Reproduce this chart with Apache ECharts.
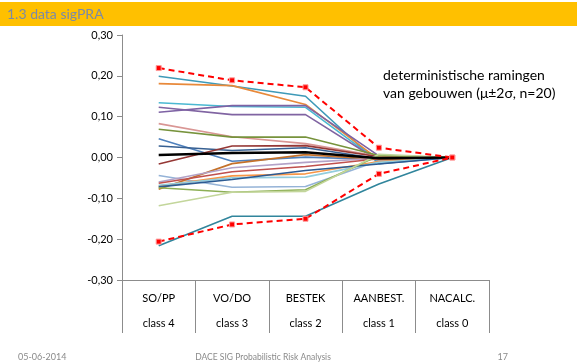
<!DOCTYPE html>
<html>
<head>
<meta charset="utf-8">
<script src="https://cdn.jsdelivr.net/npm/echarts@6/dist/echarts.min.js"></script>
<style>
  html, body { margin: 0; padding: 0; background: #fff; }
  #chart { width: 577px; height: 364px; }
</style>
</head>
<body>
<div id="chart"></div>
<script>
// Estimate phases (class 4 .. class 0)
const phases = ['SO/PP', 'VO/DO', 'BESTEK', 'AANBEST.', 'NACALC.'];
const classes = ['class 4', 'class 3', 'class 2', 'class 1', 'class 0'];
const yTicks = [-0.3, -0.2, -0.1, 0, 0.1, 0.2, 0.3];

// Relative deviation of each building estimate from the final cost
const b01 = [0.199, 0.175, 0.150, -0.015, 0];
const b02 = [0.181, 0.176, 0.130, -0.005, 0];
const b03 = [0.134, 0.125, 0.123, -0.010, 0];
const b04 = [0.123, 0.105, 0.105, -0.008, 0];
const b05 = [0.111, 0.127, 0.127, 0.004, 0];
const b06 = [0.083, 0.051, 0.034, 0.003, 0];
const b07 = [0.069, 0.050, 0.050, 0.005, 0];
const b08 = [0.046, -0.009, 0.001, -0.005, 0];
const b09 = [0.028, 0.017, 0.024, -0.003, 0];
const b10 = [-0.016, 0.028, 0.029, 0.002, 0];
const b11 = [-0.044, -0.073, -0.071, -0.008, 0];
const b12 = [-0.078, -0.015, 0.007, -0.005, 0];
const b13 = [-0.060, -0.025, -0.012, -0.002, 0];
const b14 = [-0.063, -0.035, -0.022, -0.003, 0];
const b15 = [-0.070, -0.045, -0.040, -0.010, 0];
const b16 = [-0.068, -0.050, -0.048, -0.012, 0];
const b17 = [-0.072, -0.054, -0.032, -0.016, 0];
const b18 = [-0.074, -0.085, -0.079, 0.005, 0];
const b19 = [-0.118, -0.085, -0.083, 0.008, 0];
const b20 = [-0.216, -0.144, -0.144, -0.065, 0];

// Mean and mean +/- 2 sigma
const mean = [0.006, 0.011, 0.013, -0.002, 0];
const upper = [0.219, 0.189, 0.172, 0.024, 0];
const lower = [-0.206, -0.164, -0.150, -0.040, 0];

const buildings = [b01, b02, b03, b04, b05, b06, b07, b08, b09, b10,
                   b11, b12, b13, b14, b15, b16, b17, b18, b19, b20];
const colors = ['#3E9AB8', '#E8893A', '#4BB8D2', '#8064A2', '#7E62A4',
                '#D99694', '#77933C', '#4F81BD', '#376092', '#953735',
                '#95B3D7', '#C4712A', '#B3A2C7', '#C0504D', '#F79646',
                '#93CDDD', '#2C5A92', '#8DAF55', '#C3D69B', '#31859C'];

const font = 'Lato, "Open Sans", "Liberation Sans", sans-serif';

const series = buildings.map((d, i) => ({
  type: 'line', data: d, symbol: 'none', silent: true,
  lineStyle: { color: colors[i], width: 1.6 }, z: 2
}));
series.push({
  type: 'line', data: mean, symbol: 'none', silent: true,
  lineStyle: { color: '#000', width: 2.4 }, z: 4
});
[upper, lower].forEach(d => series.push({
  type: 'line', data: d, symbol: 'rect', symbolSize: 5, silent: true,
  itemStyle: { color: '#FF0000', borderColor: '#FF9A9A', borderWidth: 1 },
  lineStyle: { color: '#FF0000', width: 2, type: [6, 4] }, z: 5
}));

const chart = echarts.init(document.getElementById('chart'), null, { renderer: 'canvas' });
chart.setOption({
  animation: false,
  backgroundColor: '#fff',
  grid: { left: 122, right: 88, top: 35, bottom: 84 },
  xAxis: {
    type: 'category',
    data: phases.map((p, i) => p + '\n' + classes[i]),
    boundaryGap: true,
    axisLine: { onZero: false, lineStyle: { color: '#8C8C8C', width: 1 } },
    axisTick: { show: true, length: 53, lineStyle: { color: '#8C8C8C' } },
    axisLabel: { color: '#000', fontFamily: font, fontSize: 11, lineHeight: 25, margin: 6 }
  },
  yAxis: {
    type: 'value', min: yTicks[0], max: yTicks[yTicks.length - 1], interval: 0.1,
    splitLine: { show: false },
    axisLine: { show: true, lineStyle: { color: '#8C8C8C' } },
    axisTick: { show: true, length: 5, lineStyle: { color: '#8C8C8C' } },
    axisLabel: {
      color: '#000', fontFamily: font, fontSize: 11, margin: 9,
      formatter: v => v.toFixed(2).replace('.', ',')
    }
  },
  series: series,
  graphic: [
    { type: 'rect', shape: { x: 0, y: 2, width: 577, height: 24 }, style: { fill: '#FFC000' } },
    { type: 'text', x: 7, y: 14, style: { text: '1.3 data sigPRA', fill: '#7B8AA6', font: '14px ' + font, textVerticalAlign: 'middle' } },
    { type: 'text', x: 383, y: 75, style: { text: 'deterministische ramingen', fill: '#000', font: '14px ' + font, textAlign: 'left', textVerticalAlign: 'middle' } },
    { type: 'text', x: 383, y: 93, style: { text: 'van gebouwen (\u03bc\u00b12\u03c3, n=20)', fill: '#000', font: '14px ' + font, textAlign: 'left', textVerticalAlign: 'middle' } },
    { type: 'text', x: 18, y: 357, style: { text: '05-06-2014', fill: '#8A8A8A', font: '9px ' + font, textVerticalAlign: 'middle' } },
    { type: 'text', x: 263, y: 357, style: { text: 'DACE SIG Probabilistic Risk Analysis', fill: '#8A8A8A', font: '8.5px ' + font, textAlign: 'center', textVerticalAlign: 'middle' } },
    { type: 'text', x: 508, y: 357, style: { text: '17', fill: '#8A8A8A', font: '9px ' + font, textAlign: 'right', textVerticalAlign: 'middle' } }
  ]
});
</script>
</body>
</html>
